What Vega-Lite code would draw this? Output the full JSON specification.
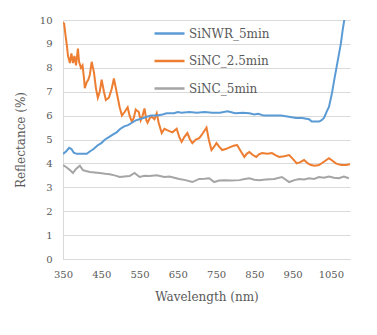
{
  "$schema": "https://vega.github.io/schema/vega-lite/v6.json",
  "width": 287,
  "height": 239,
  "autosize": "none",
  "padding": {"left": 63, "top": 20, "right": 27, "bottom": 76},
  "background": "white",
  "config": {
    "view": {"stroke": null},
    "legend": {
      "labelFont": "DejaVu Serif",
      "labelFontSize": 12,
      "labelColor": "#595959"
    }
  },
  "datasets": {
    "blue": [
      {"wl": 350, "r": 4.4}, {"wl": 358, "r": 4.5}, {"wl": 366, "r": 4.65}, {"wl": 372, "r": 4.6}, {"wl": 378, "r": 4.45},
      {"wl": 386, "r": 4.4}, {"wl": 400, "r": 4.4}, {"wl": 412, "r": 4.4}, {"wl": 420, "r": 4.5}, {"wl": 430, "r": 4.6},
      {"wl": 440, "r": 4.75}, {"wl": 450, "r": 4.85}, {"wl": 460, "r": 5.0}, {"wl": 470, "r": 5.1}, {"wl": 480, "r": 5.2},
      {"wl": 490, "r": 5.3}, {"wl": 500, "r": 5.45}, {"wl": 510, "r": 5.55}, {"wl": 520, "r": 5.6}, {"wl": 530, "r": 5.7},
      {"wl": 540, "r": 5.8}, {"wl": 550, "r": 5.85}, {"wl": 560, "r": 5.9}, {"wl": 569, "r": 5.95}, {"wl": 580, "r": 6.0},
      {"wl": 595, "r": 6.0}, {"wl": 610, "r": 6.05}, {"wl": 621, "r": 6.1}, {"wl": 640, "r": 6.1}, {"wl": 650, "r": 6.15},
      {"wl": 660, "r": 6.12}, {"wl": 680, "r": 6.15}, {"wl": 700, "r": 6.12}, {"wl": 720, "r": 6.15}, {"wl": 740, "r": 6.12},
      {"wl": 760, "r": 6.12}, {"wl": 780, "r": 6.18}, {"wl": 800, "r": 6.1}, {"wl": 820, "r": 6.12}, {"wl": 837, "r": 6.1},
      {"wl": 850, "r": 6.05}, {"wl": 860, "r": 6.08}, {"wl": 875, "r": 6.0}, {"wl": 900, "r": 6.0}, {"wl": 920, "r": 6.0},
      {"wl": 940, "r": 5.95}, {"wl": 959, "r": 5.9}, {"wl": 975, "r": 5.9}, {"wl": 993, "r": 5.85}, {"wl": 1000, "r": 5.75},
      {"wl": 1010, "r": 5.75}, {"wl": 1019, "r": 5.75}, {"wl": 1025, "r": 5.8}, {"wl": 1032, "r": 5.9}, {"wl": 1040, "r": 6.2},
      {"wl": 1045, "r": 6.36}, {"wl": 1053, "r": 6.95}, {"wl": 1060, "r": 7.6}, {"wl": 1068, "r": 8.3}, {"wl": 1076, "r": 9.0},
      {"wl": 1081, "r": 9.6}, {"wl": 1085, "r": 10.0}, {"wl": 1090, "r": 10.5}
    ],
    "orange": [
      {"wl": 350, "r": 9.9}, {"wl": 353, "r": 9.85}, {"wl": 357, "r": 9.3}, {"wl": 360, "r": 8.95}, {"wl": 363, "r": 8.5},
      {"wl": 368, "r": 8.2}, {"wl": 372, "r": 8.6}, {"wl": 376, "r": 8.2}, {"wl": 380, "r": 8.5}, {"wl": 384, "r": 8.1},
      {"wl": 389, "r": 8.8}, {"wl": 392, "r": 8.25}, {"wl": 397, "r": 8.0}, {"wl": 401, "r": 8.1}, {"wl": 405, "r": 7.55},
      {"wl": 407, "r": 7.15}, {"wl": 412, "r": 7.4}, {"wl": 416, "r": 7.5}, {"wl": 420, "r": 7.7}, {"wl": 425, "r": 8.25},
      {"wl": 431, "r": 7.8}, {"wl": 436, "r": 7.15}, {"wl": 441, "r": 6.75}, {"wl": 446, "r": 7.0}, {"wl": 451, "r": 7.5},
      {"wl": 457, "r": 7.0}, {"wl": 462, "r": 6.65}, {"wl": 470, "r": 6.75}, {"wl": 477, "r": 7.1}, {"wl": 483, "r": 7.55},
      {"wl": 490, "r": 7.0}, {"wl": 498, "r": 6.35}, {"wl": 504, "r": 6.0}, {"wl": 511, "r": 6.15}, {"wl": 519, "r": 6.35},
      {"wl": 524, "r": 6.0}, {"wl": 530, "r": 5.75}, {"wl": 535, "r": 5.9}, {"wl": 540, "r": 6.25}, {"wl": 548, "r": 6.15},
      {"wl": 553, "r": 5.8}, {"wl": 558, "r": 6.0}, {"wl": 563, "r": 6.3}, {"wl": 568, "r": 5.8}, {"wl": 571, "r": 5.7},
      {"wl": 577, "r": 5.9}, {"wl": 582, "r": 5.95}, {"wl": 589, "r": 5.85}, {"wl": 595, "r": 6.1}, {"wl": 600, "r": 5.7},
      {"wl": 608, "r": 5.27}, {"wl": 615, "r": 5.45}, {"wl": 621, "r": 5.4}, {"wl": 628, "r": 5.35}, {"wl": 636, "r": 5.3},
      {"wl": 647, "r": 5.45}, {"wl": 654, "r": 5.1}, {"wl": 660, "r": 4.9}, {"wl": 667, "r": 5.1}, {"wl": 675, "r": 5.27},
      {"wl": 682, "r": 5.0}, {"wl": 688, "r": 4.85}, {"wl": 697, "r": 5.0}, {"wl": 706, "r": 5.06}, {"wl": 715, "r": 5.25},
      {"wl": 725, "r": 5.5}, {"wl": 731, "r": 5.0}, {"wl": 738, "r": 4.56}, {"wl": 745, "r": 4.7}, {"wl": 751, "r": 4.85},
      {"wl": 758, "r": 4.7}, {"wl": 766, "r": 4.56}, {"wl": 775, "r": 4.6}, {"wl": 790, "r": 4.7}, {"wl": 798, "r": 4.75},
      {"wl": 805, "r": 4.77}, {"wl": 815, "r": 4.5}, {"wl": 824, "r": 4.27}, {"wl": 830, "r": 4.4}, {"wl": 837, "r": 4.48},
      {"wl": 846, "r": 4.35}, {"wl": 855, "r": 4.27}, {"wl": 862, "r": 4.38}, {"wl": 870, "r": 4.43}, {"wl": 884, "r": 4.4},
      {"wl": 896, "r": 4.43}, {"wl": 905, "r": 4.35}, {"wl": 915, "r": 4.27}, {"wl": 928, "r": 4.3}, {"wl": 941, "r": 4.35},
      {"wl": 950, "r": 4.2}, {"wl": 961, "r": 4.0}, {"wl": 970, "r": 4.05}, {"wl": 980, "r": 4.14}, {"wl": 990, "r": 4.0},
      {"wl": 998, "r": 3.93}, {"wl": 1008, "r": 3.9}, {"wl": 1019, "r": 3.93}, {"wl": 1030, "r": 4.05}, {"wl": 1045, "r": 4.22},
      {"wl": 1055, "r": 4.1}, {"wl": 1063, "r": 4.0}, {"wl": 1072, "r": 3.95}, {"wl": 1079, "r": 3.93}, {"wl": 1090, "r": 3.93},
      {"wl": 1100, "r": 3.97}
    ],
    "gray": [
      {"wl": 350, "r": 3.93}, {"wl": 358, "r": 3.85}, {"wl": 368, "r": 3.72}, {"wl": 376, "r": 3.6}, {"wl": 384, "r": 3.77},
      {"wl": 394, "r": 3.9}, {"wl": 402, "r": 3.72}, {"wl": 410, "r": 3.68}, {"wl": 420, "r": 3.64}, {"wl": 433, "r": 3.62},
      {"wl": 446, "r": 3.6}, {"wl": 460, "r": 3.57}, {"wl": 472, "r": 3.55}, {"wl": 485, "r": 3.5}, {"wl": 498, "r": 3.43},
      {"wl": 510, "r": 3.45}, {"wl": 524, "r": 3.47}, {"wl": 537, "r": 3.6}, {"wl": 550, "r": 3.43}, {"wl": 563, "r": 3.48},
      {"wl": 576, "r": 3.47}, {"wl": 595, "r": 3.5}, {"wl": 615, "r": 3.43}, {"wl": 628, "r": 3.45}, {"wl": 641, "r": 3.4},
      {"wl": 654, "r": 3.35}, {"wl": 670, "r": 3.3}, {"wl": 688, "r": 3.22}, {"wl": 706, "r": 3.35}, {"wl": 720, "r": 3.36},
      {"wl": 732, "r": 3.38}, {"wl": 745, "r": 3.22}, {"wl": 758, "r": 3.28}, {"wl": 772, "r": 3.3}, {"wl": 790, "r": 3.28},
      {"wl": 811, "r": 3.3}, {"wl": 825, "r": 3.35}, {"wl": 837, "r": 3.38}, {"wl": 850, "r": 3.32}, {"wl": 863, "r": 3.3},
      {"wl": 880, "r": 3.33}, {"wl": 902, "r": 3.35}, {"wl": 922, "r": 3.43}, {"wl": 941, "r": 3.22}, {"wl": 955, "r": 3.3},
      {"wl": 967, "r": 3.35}, {"wl": 980, "r": 3.33}, {"wl": 993, "r": 3.38}, {"wl": 1006, "r": 3.35}, {"wl": 1019, "r": 3.43},
      {"wl": 1032, "r": 3.4}, {"wl": 1045, "r": 3.45}, {"wl": 1058, "r": 3.4}, {"wl": 1071, "r": 3.38}, {"wl": 1084, "r": 3.45},
      {"wl": 1097, "r": 3.38}
    ]
  },
  "encoding": {
    "x": {
      "field": "wl", "type": "quantitative",
      "scale": {"domain": [350, 1100], "nice": false, "zero": false},
      "axis": {
        "title": "Wavelength (nm)", "values": [350, 450, 550, 650, 750, 850, 950, 1050], "format": "d",
        "grid": false, "ticks": false, "tickSize": 0, "labelPadding": 10, "titlePadding": 12, "labelFlush": false,
        "labelFont": "DejaVu Serif", "labelFontSize": 10, "labelColor": "#595959",
        "titleFont": "DejaVu Serif", "titleFontSize": 12, "titleFontWeight": "normal", "titleColor": "#595959",
        "domainColor": "#d9d9d9"
      }
    },
    "y": {
      "field": "r", "type": "quantitative",
      "scale": {"domain": [0, 10], "nice": false},
      "axis": {
        "title": "Reflectance (%)", "values": [0, 1, 2, 3, 4, 5, 6, 7, 8, 9, 10], "labelOverlap": false,
        "grid": true, "gridColor": "#d9d9d9", "ticks": false, "tickSize": 0, "labelPadding": 11, "titlePadding": 12,
        "labelFont": "DejaVu Serif", "labelFontSize": 10, "labelColor": "#595959",
        "titleFont": "DejaVu Serif", "titleFontSize": 12, "titleFontWeight": "normal", "titleColor": "#595959",
        "domainColor": "#d9d9d9"
      }
    },
    "color": {
      "field": "series", "type": "nominal",
      "scale": {"domain": ["SiNWR_5min", "SiNC_2.5min", "SiNC_5min"], "range": ["#5B9BD5", "#ED7D31", "#A5A5A5"]},
      "legend": {"title": null, "orient": "none", "legendX": 90, "legendY": -3, "symbolType": "stroke", "symbolSize": 900, "symbolStrokeWidth": 2.5, "labelOffset": 3, "rowPadding": 4.5}
    }
  },
  "layer": [
    {
      "data": {"name": "gray"},
      "transform": [{"calculate": "'SiNC_5min'", "as": "series"}],
      "mark": {"type": "line", "strokeWidth": 2, "clip": true}
    },
    {
      "data": {"name": "orange"},
      "transform": [{"calculate": "'SiNC_2.5min'", "as": "series"}],
      "mark": {"type": "line", "strokeWidth": 2, "clip": true}
    },
    {
      "data": {"name": "blue"},
      "transform": [{"calculate": "'SiNWR_5min'", "as": "series"}],
      "mark": {"type": "line", "strokeWidth": 2, "clip": true}
    }
  ]
}
